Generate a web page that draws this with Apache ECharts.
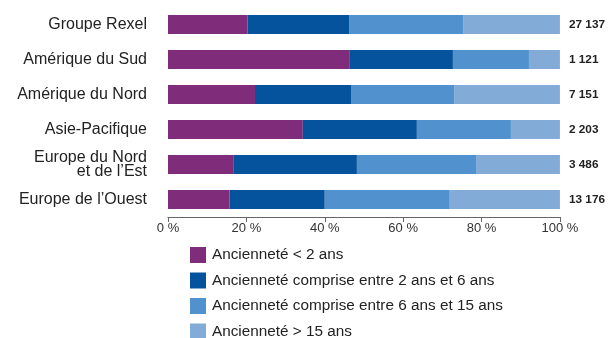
<!DOCTYPE html>
<html><head><meta charset="utf-8">
<script src="https://cdn.jsdelivr.net/npm/echarts@6/dist/echarts.min.js"></script>
<style>html,body{margin:0;padding:0;background:#fff}#c{width:608px;height:338px}</style>
</head><body><div id="c"></div>
<script>
// Categories listed bottom-to-top (category axis on y starts at bottom)
const categories = ["Europe de l\u2019Ouest", "Europe du Nord\net de l\u2019Est", "Asie-Pacifique", "Amérique du Nord", "Amérique du Sud", "Groupe Rexel"];
const totals = ["13 176", "3 486", "2 203", "7 151", "1 121", "27 137"];
const seriesNames = ["Ancienneté < 2 ans", "Ancienneté comprise entre 2 ans et 6 ans", "Ancienneté comprise entre 6 ans et 15 ans", "Ancienneté > 15 ans"];
const lt2 =   [15.7, 16.8, 34.4, 22.2, 46.4, 20.3];
const s2to6 = [24.3, 31.4, 29.1, 24.5, 26.3, 25.9];
const s6to15 =[31.9, 30.4, 24.0, 26.3, 19.4, 29.1];
const gt15 =  [28.1, 21.4, 12.5, 27.0, 7.9, 24.7];
const xTicks = [0, 20, 40, 60, 80, 100];

const colors = ["#7F2D7B", "#04539C", "#5191CD", "#82ABD8"];
const values = [lt2, s2to6, s6to15, gt15];
const font = "Liberation Sans, Arial, Helvetica, sans-serif";

const chart = echarts.init(document.getElementById('c'), null, {renderer:'canvas'});
chart.setOption({
  animation: false,
  color: colors,
  textStyle: {fontFamily: font},
  grid: {left: 168, right: 48, top: 7, height: 210, containLabel: false},
  xAxis: {
    type: 'value', min: xTicks[0], max: xTicks[xTicks.length-1], interval: xTicks[1]-xTicks[0],
    axisLine: {show: true, lineStyle: {color: '#666', width: 1}},
    axisTick: {show: true, length: 5, lineStyle: {color: '#666'}},
    splitLine: {show: false},
    axisLabel: {color: '#333', fontSize: 13, fontFamily: font, margin: 5, formatter: v => v + ' %'}
  },
  yAxis: [{
    type: 'category', data: categories,
    axisLine: {show: false}, axisTick: {show: false},
    axisLabel: {color: '#222', fontSize: 16, fontFamily: font, margin: 21, align: 'right', lineHeight: 14}
  }, {
    type: 'category', data: totals, position: 'right',
    axisLine: {show: false}, axisTick: {show: false},
    axisLabel: {color: '#222', fontSize: 11.8, fontWeight: 'bold', fontFamily: font, margin: 9, align: 'left'}
  }],
  legend: {
    orient: 'vertical', left: 190, top: 247, height: 100,
    itemWidth: 16, itemHeight: 16, itemGap: 9.5,
    icon: 'rect', padding: 0,
    textStyle: {color: '#222', fontSize: 15.3, fontFamily: font, lineHeight: 16, padding: [0,0,0,1]},
    data: seriesNames
  },
  series: values.map((v, i) => ({
    name: seriesNames[i], type: 'bar', stack: 'total', barWidth: 19,
    data: v, itemStyle: {color: colors[i]}
  }))
});
</script></body></html>
